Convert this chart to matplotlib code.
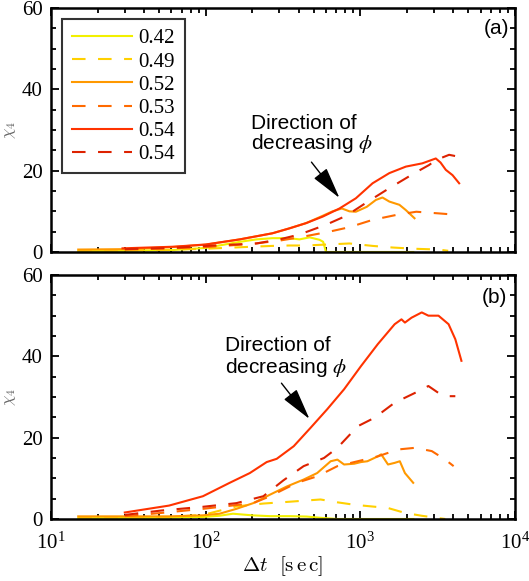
import matplotlib
matplotlib.use("Agg")
import matplotlib.pyplot as plt
from matplotlib.ticker import LogLocator, MultipleLocator, NullFormatter, FixedLocator
import numpy as np

plt.rcParams['font.family'] = ['Liberation Serif', 'DejaVu Serif']
plt.rcParams['mathtext.fontset'] = 'stix'

# ---------------- data ----------------
labels = ['0.42', '0.49', '0.52', '0.53', '0.54', '0.54']
colors = ['#f2f000', '#ffd000', '#ff9900', '#ff6a00', '#ff3300', '#dd2200']
styles = ['solid', 'dashed', 'solid', 'dashed', 'solid', 'dashed']

# panel (a)
a_t_042 = [15, 30, 62, 100, 166, 213, 270, 347, 404, 470, 545, 575, 590, 600, 1000, 2200]
a_v_042 = [0.2, 0.3, 0.5, 1.0, 2.5, 3.1, 3.4, 3.4, 3.1, 3.6, 3.0, 2.5, 1.0, 0.0, 0.0, 0.0]
a_t_049 = [15, 50, 100, 200, 270, 347, 446, 660, 850, 1200, 1620, 2240, 3200, 3700]
a_v_049 = [0.3, 0.5, 0.8, 1.3, 1.5, 1.6, 1.6, 1.9, 2.1, 1.5, 1.1, 0.8, 0.6, 0.3]
a_t_052 = [15, 30, 60, 100, 166, 270, 347, 446, 571, 661, 760, 850, 935, 1100, 1260, 1390, 1540, 1790, 1970, 2240]
a_v_052 = [0.6, 0.7, 1.2, 1.8, 3.1, 4.6, 5.8, 7.1, 8.9, 10.0, 10.7, 10.0, 9.9, 11.1, 12.8, 13.4, 12.4, 11.6, 10.3, 8.3]
a_t_053 = [30, 60, 100, 200, 300, 404, 630, 850, 1200, 1700, 2300, 3200, 4355]
a_v_053 = [0.6, 0.9, 1.2, 2.0, 2.8, 3.6, 5.0, 6.1, 7.9, 9.1, 9.9, 9.5, 9.1]
a_t_054 = [29, 62, 100, 166, 270, 347, 446, 571, 733, 935, 1200, 1540, 1970, 2515, 3075, 3300, 3570, 3945, 4355]
a_v_054 = [0.9, 1.3, 1.85, 3.1, 4.6, 5.8, 7.1, 8.7, 10.7, 13.2, 16.9, 19.4, 21.0, 21.8, 23.0, 22.0, 20.2, 18.9, 16.9]
a_t_054d = [30, 60, 112, 213, 300, 404, 600, 810, 1120, 1540, 2240, 2785, 3075, 3750, 4355]
a_v_054d = [0.7, 1.0, 1.6, 2.1, 3.1, 4.3, 6.7, 8.9, 12.4, 15.7, 19.4, 21.4, 22.6, 23.9, 23.4]

# panel (b)
b_t_042 = [15, 30, 58, 96, 123, 150, 200, 261, 350, 450, 553, 711, 1000, 2200]
b_v_042 = [0.2, 0.25, 0.3, 0.5, 0.8, 1.3, 0.9, 0.7, 0.7, 0.6, 0.3, 0.0, 0.0, 0.0]
b_t_049 = [15, 58, 96, 158, 236, 335, 553, 711, 915, 1175, 1510, 1942, 2490, 3540]
b_v_049 = [0.3, 0.5, 1.0, 3.1, 3.8, 4.2, 4.8, 4.1, 3.5, 3.1, 2.7, 1.5, 0.8, 0.0]
b_t_052 = [15, 58, 96, 123, 158, 203, 261, 335, 430, 526, 643, 711, 785, 915, 1010, 1110, 1297, 1365, 1510, 1667, 1800, 1942, 2197]
b_v_052 = [0.65, 0.65, 0.9, 1.3, 2.5, 3.9, 6.0, 8.0, 9.7, 11.3, 14.2, 14.6, 13.4, 13.6, 14.0, 14.2, 15.4, 15.9, 13.4, 13.8, 14.2, 11.3, 8.9]
b_t_053 = [30, 52, 96, 203, 261, 389, 526, 711, 961, 1297, 1754, 2254, 2897, 3540, 4010]
b_v_053 = [0.7, 1.5, 2.5, 3.9, 5.6, 8.9, 10.5, 13.0, 14.2, 15.4, 17.1, 17.5, 16.7, 14.6, 13.0]
b_t_054 = [30, 58, 96, 143, 193, 248, 288, 371, 476, 611, 785, 1010, 1297, 1667, 1845, 1942, 2143, 2495, 2754, 3200, 3720, 4113, 4504]
b_v_054 = [1.6, 3.3, 5.6, 8.9, 11.3, 14.0, 14.8, 17.9, 22.4, 27.0, 31.9, 37.6, 43.0, 47.9, 49.1, 48.3, 49.5, 50.8, 50.0, 50.0, 47.9, 44.2, 38.9]
b_t_054d = [30, 52, 96, 158, 236, 318, 430, 582, 711, 961, 1236, 1667, 2254, 2754, 3200, 3540, 4113]
b_v_054d = [1.0, 2.1, 3.0, 3.9, 5.6, 9.5, 13.0, 15.0, 17.5, 22.8, 24.9, 28.6, 31.0, 32.7, 31.0, 30.2, 30.2]

panel_a = [(a_t_042, a_v_042), (a_t_049, a_v_049), (a_t_052, a_v_052),
           (a_t_053, a_v_053), (a_t_054, a_v_054), (a_t_054d, a_v_054d)]
panel_b = [(b_t_042, b_v_042), (b_t_049, b_v_049), (b_t_052, b_v_052),
           (b_t_053, b_v_053), (b_t_054, b_v_054), (b_t_054d, b_v_054d)]

W, H = 529, 581
fig = plt.figure(figsize=(W / 100, H / 100), dpi=100)
L, R = 51, 515
ax_a = fig.add_axes([L / W, 1 - 252 / H, (R - L) / W, 244 / H])
ax_b = fig.add_axes([L / W, 1 - 519 / H, (R - L) / W, 244 / H])

dash = (0, (6.5, 6.0))
lw = 1.5

def style_ax(ax, show_x):
    ax.set_xscale('log')
    ax.set_xlim(10, 1e4)
    ax.set_ylim(0, 60)
    ax.yaxis.set_major_locator(FixedLocator([0, 20, 40, 60]))
    ax.yaxis.set_minor_locator(MultipleLocator(5))
    ax.xaxis.set_major_locator(LogLocator(base=10, numticks=10))
    ax.xaxis.set_minor_locator(LogLocator(base=10, subs=np.arange(2, 10), numticks=20))
    ax.xaxis.set_minor_formatter(NullFormatter())
    for s in ax.spines.values():
        s.set_linewidth(1.8)
    ax.tick_params(which='both', direction='in', top=True, right=True, width=1.3)
    ax.tick_params(which='major', length=6, labelsize=15)
    ax.tick_params(axis='y', which='major', pad=6)
    ax.tick_params(axis='x', which='major', pad=10)
    ax.tick_params(which='minor', length=3.5)
    if not show_x:
        ax.tick_params(axis='x', labelbottom=False)
    ax.set_ylabel(r'$\chi_4$', fontsize=12, color='#666666', math_fontfamily='cm')
    ax.yaxis.set_label_coords(-0.072, 0.5)

for ax, data in ((ax_a, panel_a), (ax_b, panel_b)):
    for (t, v), c, ls, lab in zip(data, colors, styles, labels):
        ax.plot(t, v, color=c, lw=lw, linestyle=dash if ls == 'dashed' else '-', label=lab)
    style_ax(ax, ax is ax_b)

leg = ax_a.legend(loc='upper left', fontsize=15, frameon=True, fancybox=False,
                  edgecolor='black', handlelength=2.9, handletextpad=0.3,
                  labelspacing=0.17, borderpad=0.45, borderaxespad=0.55)
leg.get_frame().set_linewidth(1.5)

ax_b.set_xlabel(r'$\Delta t\ \ [\mathrm{s\,e\,c}]$', fontsize=15, math_fontfamily='cm', labelpad=0)

sans = ['Liberation Sans', 'DejaVu Sans']
arrow_kw = dict(arrowstyle='-|>,head_length=1.1,head_width=0.28', color='black', lw=1.0,
                mutation_scale=18, shrinkA=0, shrinkB=0)

# panel (a) annotation
ax_a.text(195, 30.2, 'Direction of', fontsize=15, family=sans, va='baseline')
ax_a.text(195, 25.3, r'decreasing $\phi$', fontsize=15, family=sans, va='baseline')
ax_a.annotate('', xy=(733, 13.3), xytext=(483, 22.1), arrowprops=arrow_kw)
ax_a.text(0.96, 0.918, '(a)', transform=ax_a.transAxes, fontsize=15, family=sans,
          ha='center', va='center')

# panel (b) annotation
ax_b.text(133, 41.3, 'Direction of', fontsize=15, family=sans, va='baseline')
ax_b.text(133, 35.9, r'decreasing $\phi$', fontsize=15, family=sans, va='baseline')
ax_b.annotate('', xy=(469, 24.6), xytext=(309, 33.4), arrowprops=arrow_kw)
ax_b.text(0.955, 0.906, '(b)', transform=ax_b.transAxes, fontsize=15, family=sans,
          ha='center', va='center')

fig.savefig('out.png', dpi=100)
